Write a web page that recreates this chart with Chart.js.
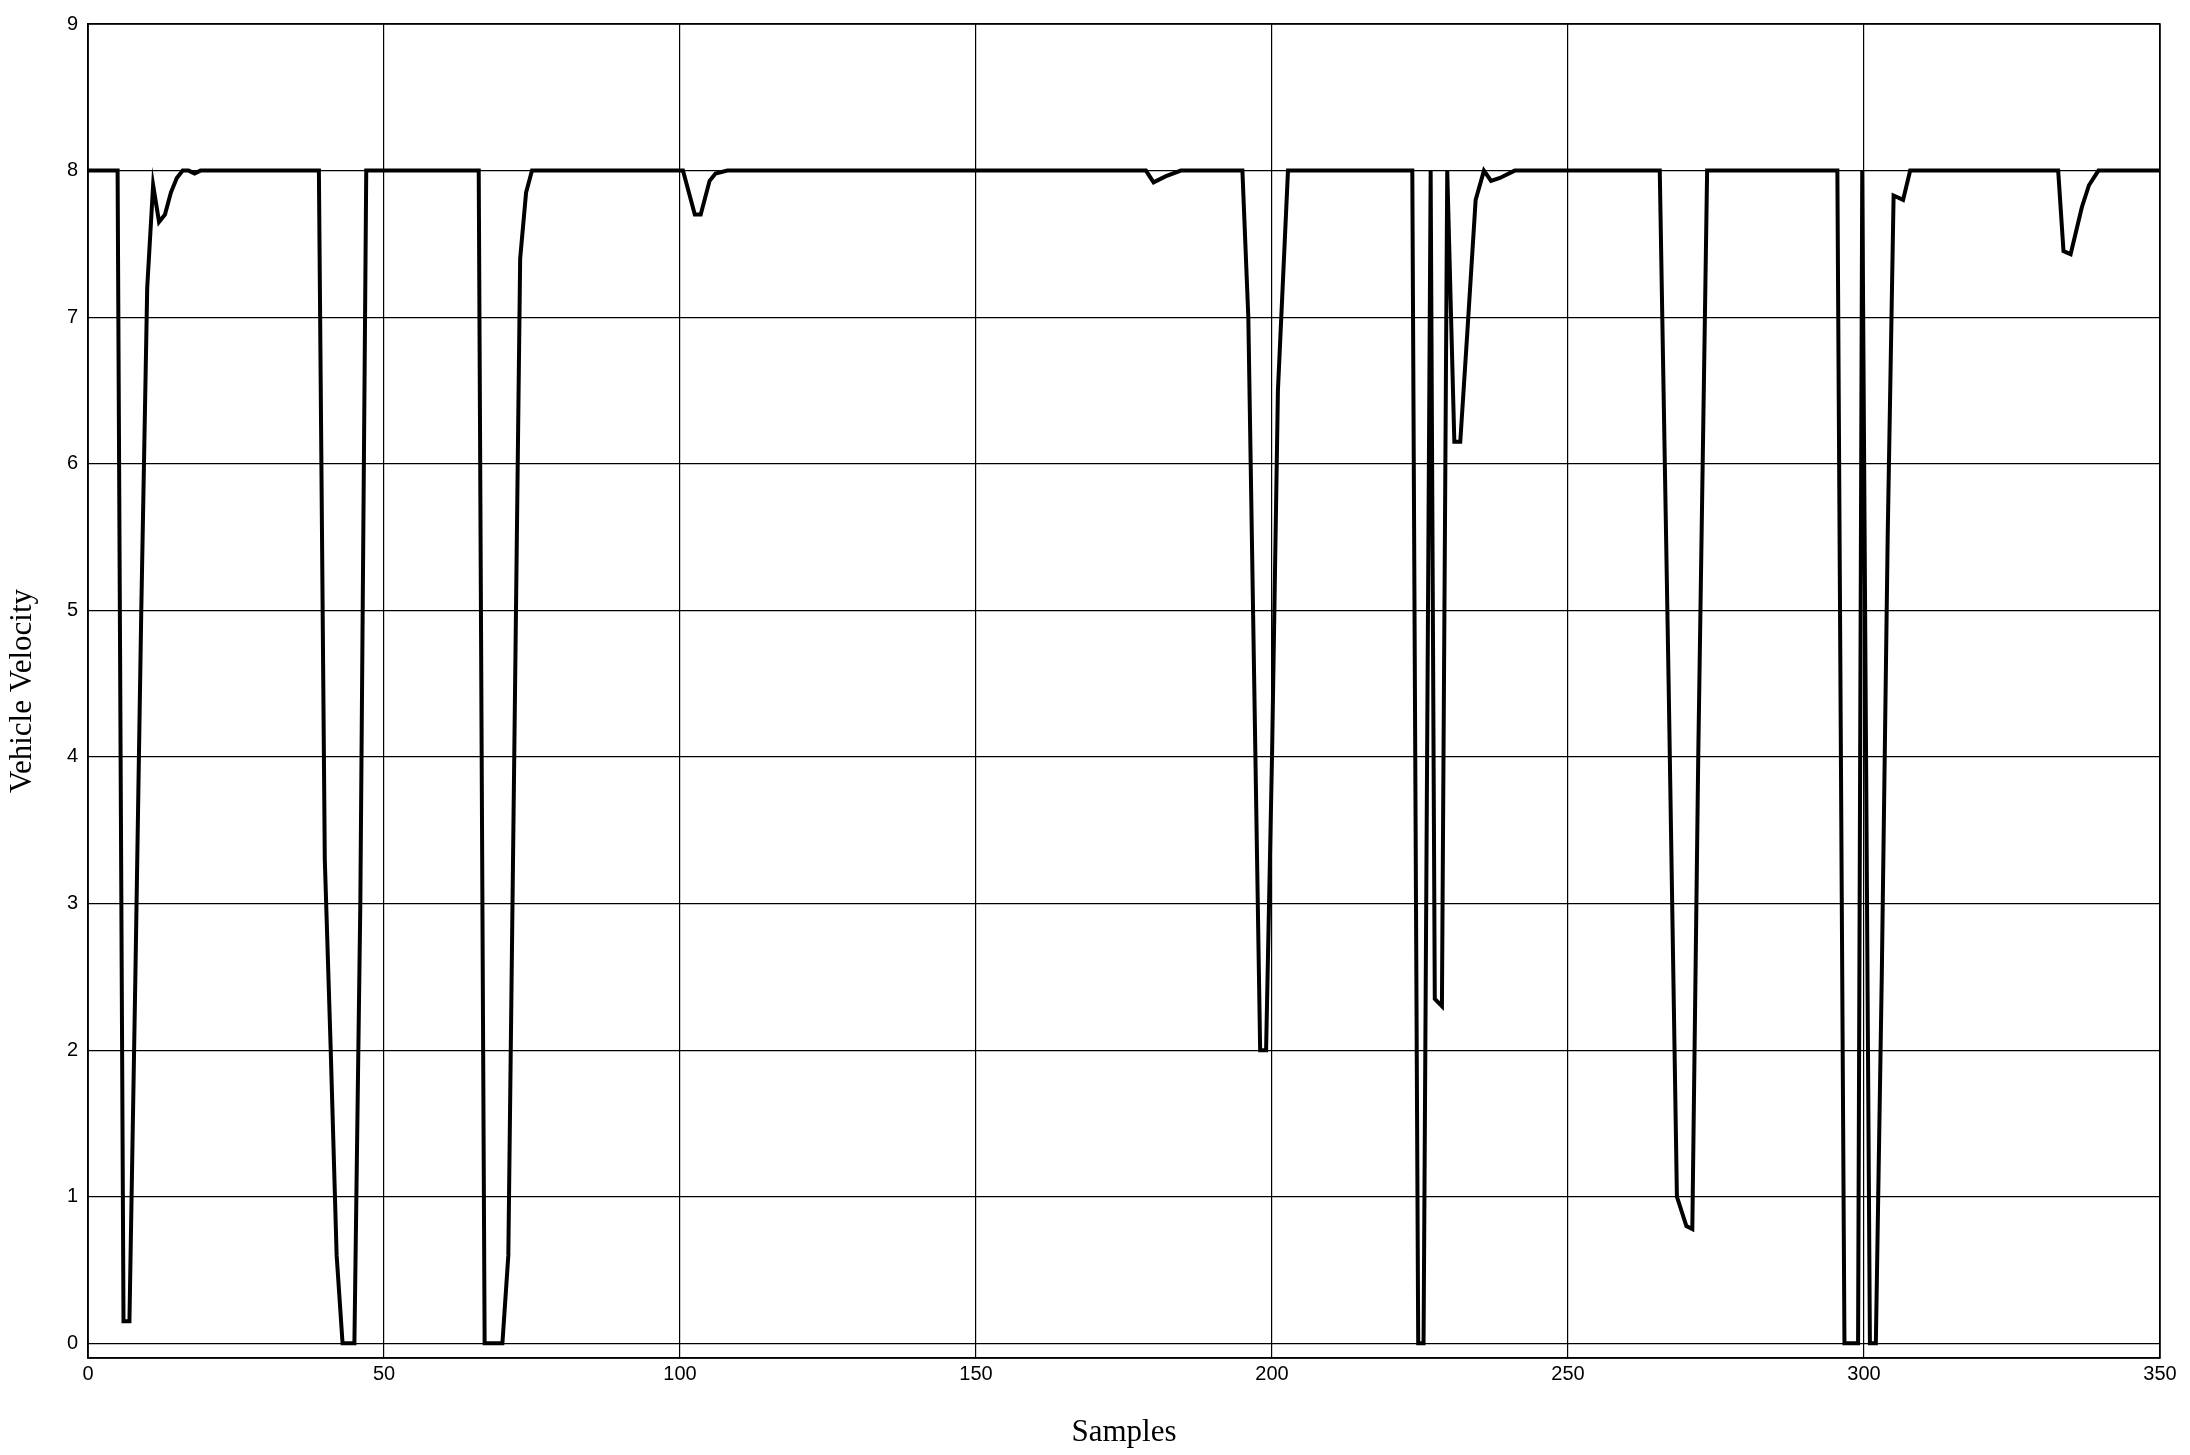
<!DOCTYPE html>
<html>
<head>
<meta charset="utf-8">
<script src="https://cdn.jsdelivr.net/npm/chart.js@4/dist/chart.umd.min.js"></script>
<style>
  html, body { margin: 0; padding: 0; background: #fff; }
  #wrap { width: 2190px; height: 1455px; }
</style>
</head>
<body>
<div id="wrap"><canvas id="c" width="2190" height="1455"></canvas></div>
<script>
// samples and velocity
const samples = [0,5,6,7,8,9,10,11,12,13,14,15,16,17,18,19,
  39,40,41,42,43,45,46,47,
  66,67,70,71,72,73,74,75,
  100.5,102.5,103.5,105,106,108,
  178.7,180,182,184.6,
  195,196,197,198,199,200,201,202.7,
  223.7,224.7,225.6,226.8,227.5,228.7,229.6,230.8,231.8,233,234.4,235.8,237,238.5,241,
  265.5,267,268.4,270,271,272,273.5,
  295.5,296.7,299,299.7,301,302,303,304,305,306.6,307.8,
  332.8,333.7,334.9,336.8,338,339.6,350];
const velocity = [8,8,0.15,0.15,2.5,5,7.2,7.9,7.65,7.7,7.85,7.95,8,8,7.98,8,
  8,3.3,2,0.6,0,0,3,8,
  8,0,0,0.6,4,7.4,7.85,8,
  8,7.7,7.7,7.93,7.98,8,
  8,7.92,7.96,8,
  8,7,4.5,2,2,4,6.5,8,
  8,0,0,8,2.35,2.3,8,6.15,6.15,6.9,7.8,8,7.93,7.95,8,
  8,4.5,1.0,0.8,0.78,4,8,
  8,0,0,8,0,0,2.5,5.5,7.83,7.8,8,
  8,7.45,7.43,7.75,7.9,8,8];
const xTicks = [0,50,100,150,200,250,300,350];
const yTicks = [0,1,2,3,4,5,6,7,8,9];

const points = samples.map((s, i) => ({ x: s, y: velocity[i] }));
const tickFont = { family: 'Liberation Sans', size: 20 };
const titleFont = { family: 'Liberation Serif', size: 31 };

new Chart(document.getElementById('c'), {
  type: 'line',
  data: { datasets: [{ data: points, borderColor: '#000', borderWidth: 4, pointRadius: 0, tension: 0, fill: false }] },
  options: {
    responsive: false, animation: false,
    layout: { padding: { top: 24, right: 30, left: 0, bottom: 0 } },
    plugins: { legend: { display: false }, tooltip: { enabled: false } },
    scales: {
      x: {
        type: 'linear', min: 0, max: 350,
        afterBuildTicks: a => { a.ticks = xTicks.map(v => ({ value: v })); },
        afterFit: a => { a.height = 97; },
        grid: { color: '#000', lineWidth: 1.2, drawTicks: false },
        border: { color: '#000', width: 1.5 },
        ticks: { color: '#000', font: tickFont, padding: 4, maxRotation: 0 },
        title: { display: true, text: 'Samples', color: '#000', font: titleFont, padding: { top: 2 } }
      },
      y: {
        min: -0.1, max: 9,
        afterBuildTicks: a => { a.ticks = yTicks.map(v => ({ value: v })); },
        afterFit: a => { a.width = 88; },
        grid: { color: '#000', lineWidth: 1.2, drawTicks: false },
        border: { color: '#000', width: 1.5 },
        ticks: { color: '#000', font: tickFont, padding: 10 },
        title: { display: true, text: 'Vehicle Velocity', color: '#000', font: titleFont, padding: { bottom: 0 } }
      }
    }
  },
  plugins: [{
    id: 'frame',
    afterDraw(chart) {
      const { ctx, chartArea: a } = chart;
      ctx.save(); ctx.strokeStyle = '#000'; ctx.lineWidth = 1.5;
      ctx.strokeRect(a.left, a.top, a.right - a.left, a.bottom - a.top);
      ctx.restore();
    }
  }]
});
</script>
</body>
</html>
